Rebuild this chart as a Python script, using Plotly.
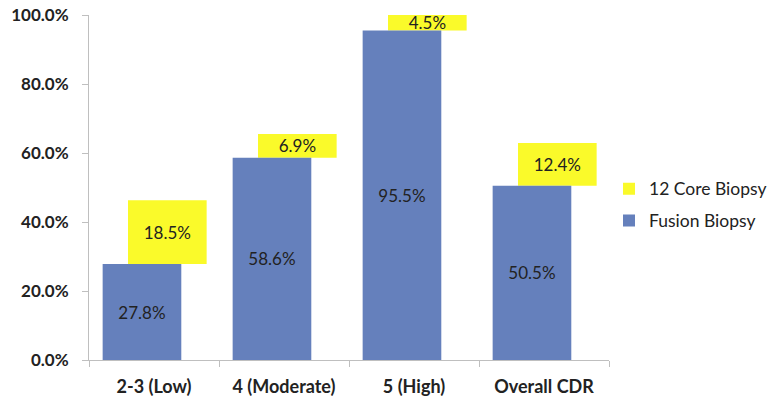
import plotly.graph_objects as go

categories = ["2-3 (Low)", "4 (Moderate)", "5 (High)", "Overall CDR"]
fusion = [27.8, 58.6, 95.5, 50.5]
core12 = [18.5, 6.9, 4.5, 12.4]
y_ticks = [0, 20, 40, 60, 80, 100]
y_tick_labels = ["0.0%", "20.0%", "40.0%", "60.0%", "80.0%", "100.0%"]

FONT = "Lato, 'Open Sans', sans-serif"
BLUE = "#6580BC"
YELLOW = "#FAFA2A"

fig = go.Figure()
fig.add_trace(go.Bar(
    x=categories, y=core12, base=fusion, name="12 Core Biopsy",
    marker=dict(color=YELLOW, line=dict(width=0)),
    width=0.605, offset=-0.2,
    text=[f"{v:.1f}%" for v in core12], textposition="inside",
    insidetextanchor="middle",
    textfont=dict(family=FONT, size=17, color="#222222"),
    legendgroup="a", hoverinfo="skip",
))
fig.add_trace(go.Bar(
    x=categories, y=fusion, name="Fusion Biopsy",
    marker=dict(color=BLUE, line=dict(width=0)),
    width=0.605, offset=-0.395,
    text=[f"{v:.1f}%" for v in fusion], textposition="inside",
    insidetextanchor="middle",
    textfont=dict(family=FONT, size=17, color="#222222"),
    legendgroup="b", hoverinfo="skip",
))

fig.update_layout(
    width=771, height=406,
    margin=dict(l=89, r=162, t=15, b=46, autoexpand=False),
    paper_bgcolor="white", plot_bgcolor="white",
    barmode="overlay",
    uniformtext=dict(minsize=17, mode="show"),
    showlegend=True,
    legend=dict(
        x=1.0, y=0.45, xanchor="left", yanchor="middle",
        traceorder="grouped", tracegroupgap=6,
        font=dict(family=FONT, size=17.5, color="#222222"),
        itemwidth=30,
    ),
    xaxis=dict(
        showgrid=False, showline=True, linecolor="#BFBFBF", linewidth=1,
        ticks="outside", tickson="boundaries", ticklen=6, tickcolor="#BFBFBF",
        tickfont=dict(family=FONT, size=18, color="#222222", weight="bold"),
        ticklabelstandoff=10,
    ),
    yaxis=dict(
        range=[0, 100], showgrid=False, zeroline=False,
        showline=True, linecolor="#BFBFBF", linewidth=1,
        ticks="outside", ticklen=6, tickcolor="#BFBFBF",
        tickvals=y_ticks, ticktext=y_tick_labels,
        tickfont=dict(family=FONT, size=17, color="#222222", weight="bold"),
        ticklabelstandoff=10,
    ),
)

fig.write_html("out.html")
